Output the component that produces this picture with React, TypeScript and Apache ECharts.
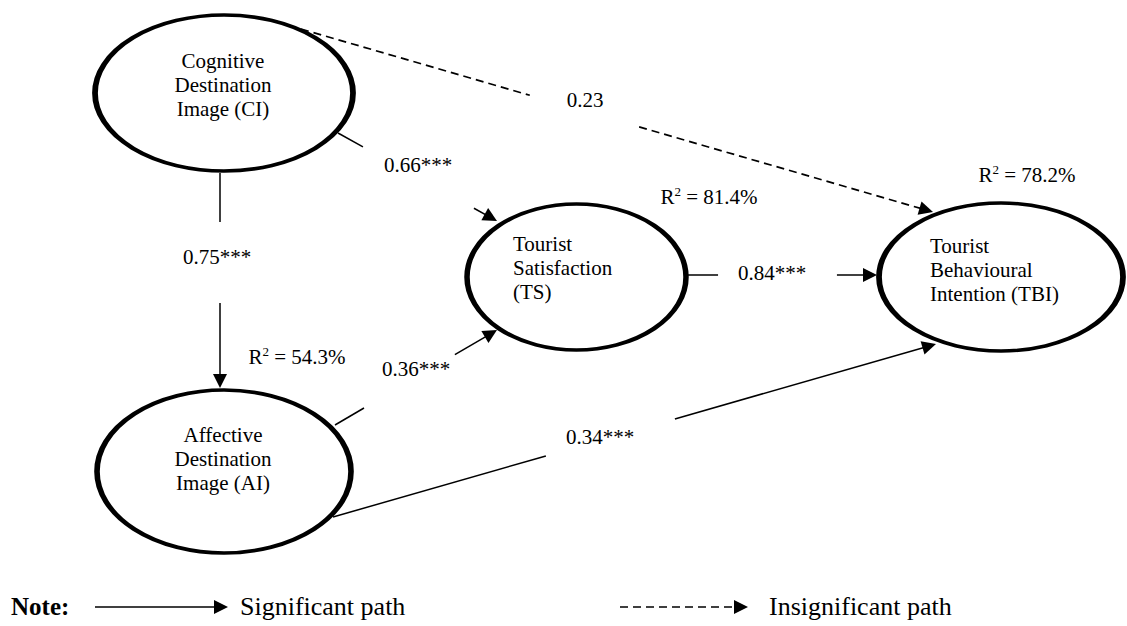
import React, { useEffect, useRef } from "react";
import * as echarts from "echarts";

// ---------------- data ----------------
const constructIds = ["CI", "AI", "TS", "TBI"];
const constructLabels = [
  "Cognitive\nDestination\nImage (CI)",
  "Affective\nDestination\nImage (AI)",
  "Tourist\nSatisfaction\n(TS)",
  "Tourist\nBehavioural\nIntention (TBI)",
];
const rSquaredIds = ["AI", "TS", "TBI"];
const rSquaredValues = ["54.3%", "81.4%", "78.2%"];

const pathFrom = ["CI", "CI", "AI", "CI", "TS", "AI"];
const pathTo = ["AI", "TS", "TS", "TBI", "TBI", "TBI"];
const pathCoefficients = [0.75, 0.66, 0.36, 0.23, 0.84, 0.34];
const pathStars = ["***", "***", "***", "", "***", "***"];
const pathSignificant = [true, true, true, false, true, true];

const noteText = "Note:";
const legendTexts = ["Significant path", "Insignificant path"];
const legendSignificant = [true, false];

// ---------------- layout (positions / sizes only) ----------------
const W = 1127;
const H = 626;
const FONT = "'Liberation Serif', 'Times New Roman', Times, serif";
const ARROW = 14;

const NODE_LAYOUT: Record<string, any> = {
  CI: { c: [224, 93], size: [258, 156], off: [-1, -8], align: "center" },
  AI: { c: [224, 471.5], size: [254, 163], off: [-1, -13], align: "center" },
  TS: { c: [576.5, 277], size: [219, 146], off: [-63.5, -9], align: "left" },
  TBI: { c: [1001, 277], size: [244, 148], off: [-71, -7], align: "left" },
};
const R2_POS: Record<string, number[]> = {
  AI: [297, 357],
  TS: [709, 197],
  TBI: [1027, 175],
};
const PATH_LAYOUT = [
  { s: [220, 173], t: [220, 388], gap: [0.228, 0.605], label: [217, 257] },
  { s: [338, 133], t: [497, 221], gap: [0.157, 0.855], label: [418, 165] },
  { s: [335, 425], t: [497, 330], gap: [0.179, 0.74], label: [416, 369] },
  { s: [301, 29], t: [933, 212], gap: [0.362, 0.535], label: [585, 100] },
  { s: [688, 275], t: [877, 275], gap: [0.159, 0.788], label: [772, 273] },
  { s: [333, 517], t: [936, 344], gap: [0.353, 0.567], label: [600, 437] },
];
const LEGEND_Y = 606;
const LEGEND_LINES = [
  { s: [95, LEGEND_Y + 1], t: [228, LEGEND_Y + 1] },
  { s: [620, LEGEND_Y + 1], t: [748, LEGEND_Y + 1] },
];
const LEGEND_TEXT_X = [240, 769];
const NOTE_X = 11;

const ELLIPSE = "path://M0,50 A50,50 0 1,1 100,50 A50,50 0 1,1 0,50 Z";
const DASH = [8, 5];

function lerp(a: number[], b: number[], t: number) {
  return [a[0] + (b[0] - a[0]) * t, a[1] + (b[1] - a[1]) * t];
}
function arrowEnd(s: number[], t: number[]) {
  const dx = t[0] - s[0];
  const dy = t[1] - s[1];
  const L = Math.hypot(dx, dy);
  return [t[0] - (dx / L) * (ARROW / 2), t[1] - (dy / L) * (ARROW / 2)];
}

export default function App() {
  const ref = useRef<HTMLDivElement>(null);

  useEffect(() => {
    if (!ref.current) return;
    const chart = echarts.init(ref.current, undefined, { renderer: "svg" });

    const textBase = { fontFamily: FONT, color: "#000", textBorderWidth: 0, opacity: 1 };
    const hidden = { color: "#fff", opacity: 1, borderWidth: 0 };

    const style = (sig: boolean) => ({
      type: sig ? "solid" : DASH,
      width: sig ? 1.5 : 1.7,
    });

    const tails = pathFrom.map((_, i) => {
      const L = PATH_LAYOUT[i];
      return { coords: [L.s, lerp(L.s, L.t, L.gap[0])], lineStyle: style(pathSignificant[i]) };
    });
    const heads = pathFrom.map((_, i) => {
      const L = PATH_LAYOUT[i];
      return {
        coords: [lerp(L.s, L.t, L.gap[1]), arrowEnd(L.s, L.t)],
        lineStyle: style(pathSignificant[i]),
      };
    });
    const legendHeads = legendSignificant.map((sig, i) => {
      const L = LEGEND_LINES[i];
      return { coords: [L.s, arrowEnd(L.s, L.t)], lineStyle: { type: sig ? "solid" : DASH, width: 1.5 } };
    });

    const option: any = {
      animation: false,
      backgroundColor: "#fff",
      grid: { left: 0, right: 0, top: 0, bottom: 0, containLabel: false },
      xAxis: { type: "value", min: 0, max: W, show: false },
      yAxis: { type: "value", min: 0, max: H, inverse: true, show: false },
      series: [
        {
          type: "lines",
          coordinateSystem: "cartesian2d",
          silent: true,
          z: 3,
          symbol: ["none", "none"],
          lineStyle: { color: "#000", width: 1.5, opacity: 1 },
          data: tails,
        },
        {
          type: "lines",
          coordinateSystem: "cartesian2d",
          silent: true,
          z: 3,
          symbol: ["none", "triangle"],
          symbolSize: ARROW,
          lineStyle: { color: "#000", width: 1.5, opacity: 1 },
          data: [...heads, ...legendHeads],
        },
        {
          type: "scatter",
          silent: true,
          z: 2,
          symbol: ELLIPSE,
          itemStyle: { color: "#fff", borderColor: "#000", borderWidth: 4.5, opacity: 1 },
          data: constructIds.map((id, i) => {
            const n = NODE_LAYOUT[id];
            return {
              name: constructLabels[i],
              value: n.c,
              symbolSize: n.size,
              label: {
                show: true,
                position: "inside",
                align: n.align,
                verticalAlign: "middle",
                offset: n.off,
                formatter: constructLabels[i],
                fontSize: 21,
                lineHeight: 24,
                ...textBase,
              },
            };
          }),
        },
        {
          type: "scatter",
          silent: true,
          z: 4,
          symbolSize: 1,
          itemStyle: hidden,
          label: {
            show: true,
            position: "inside",
            fontSize: 21,
            ...textBase,
            formatter: (p: any) =>
              `${pathCoefficients[p.dataIndex].toFixed(2)}${pathStars[p.dataIndex]}`,
          },
          data: pathCoefficients.map((_, i) => ({ value: PATH_LAYOUT[i].label })),
        },
        {
          type: "scatter",
          silent: true,
          z: 4,
          symbolSize: 1,
          itemStyle: hidden,
          label: {
            show: true,
            position: "inside",
            ...textBase,
            formatter: (p: any) => `{a|R}{s|2}{a| = ${rSquaredValues[p.dataIndex]}}`,
            rich: {
              a: { fontSize: 21, lineHeight: 24, ...textBase },
              s: { fontSize: 13, lineHeight: 13, verticalAlign: "top", ...textBase },
            },
          },
          data: rSquaredIds.map((id) => ({ value: R2_POS[id] })),
        },
        {
          type: "scatter",
          silent: true,
          z: 4,
          symbolSize: 1,
          itemStyle: hidden,
          label: {
            show: true,
            position: "inside",
            align: "left",
            verticalAlign: "middle",
            fontSize: 26,
            ...textBase,
          },
          data: [
            {
              value: [NOTE_X, LEGEND_Y],
              label: { formatter: noteText, fontWeight: "bold", fontSize: 25 },
            },
            ...legendTexts.map((t, i) => ({
              value: [LEGEND_TEXT_X[i], LEGEND_Y],
              label: { formatter: t },
            })),
          ],
        },
      ],
    };

    chart.setOption(option);
    return () => chart.dispose();
  }, []);

  return (
    <div
      ref={ref}
      style={{ position: "fixed", left: 0, top: 0, width: W, height: H, background: "#fff" }}
    />
  );
}
